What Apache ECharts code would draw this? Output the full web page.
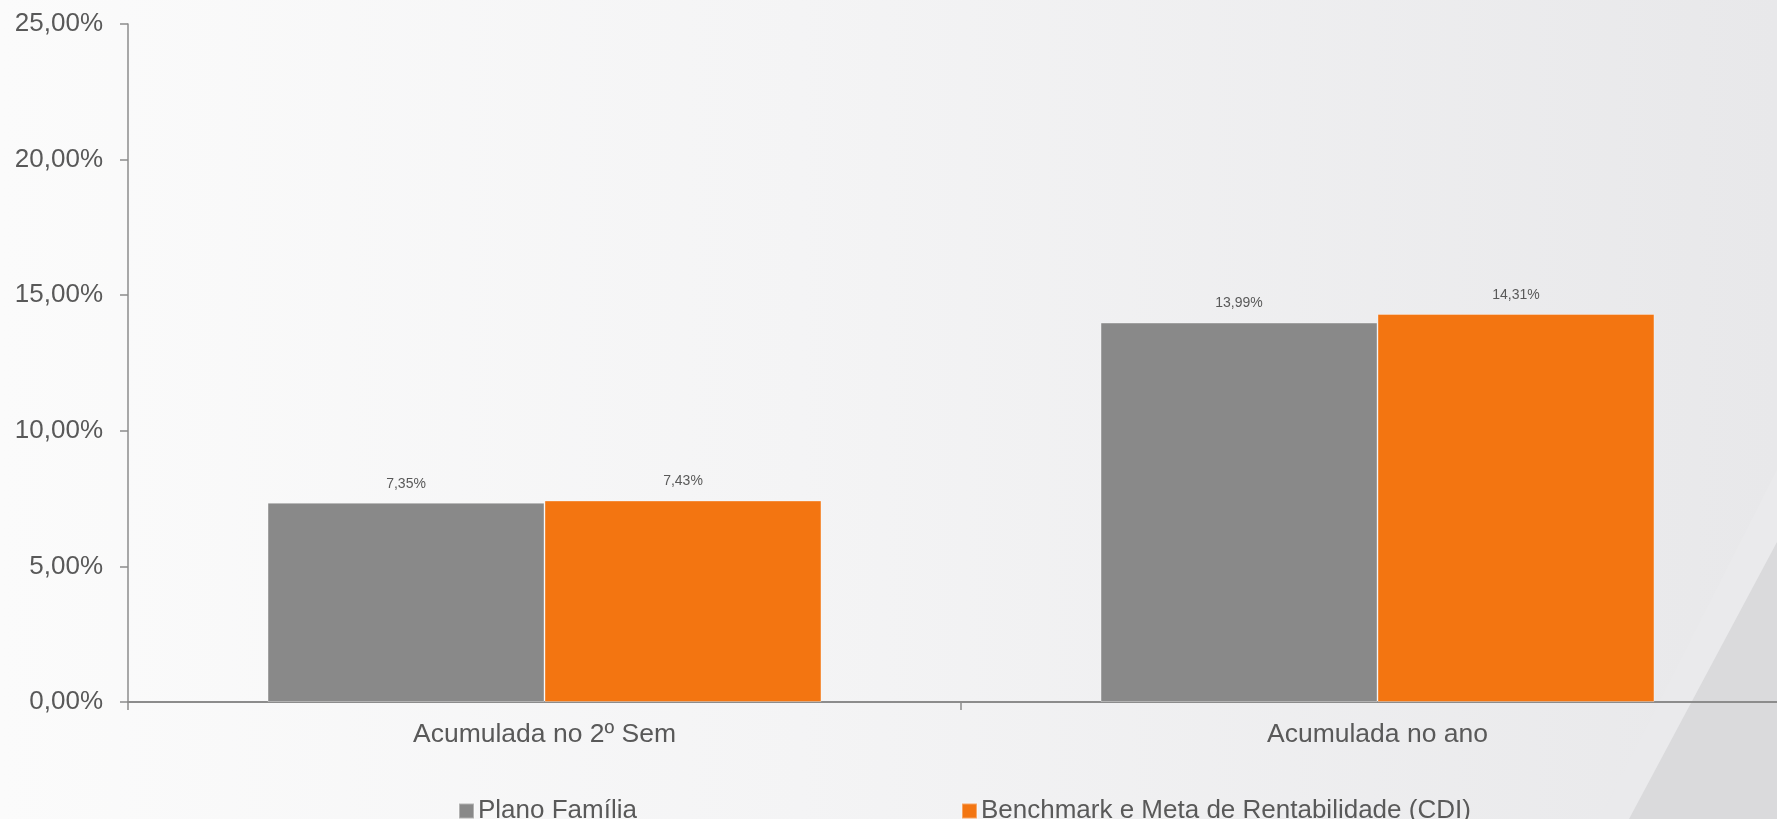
<!DOCTYPE html>
<html>
<head>
<meta charset="utf-8">
<script src="https://cdn.jsdelivr.net/npm/echarts@6/dist/echarts.min.js"></script>
<style>
html,body{margin:0;padding:0;}
body{width:1777px;height:819px;overflow:hidden;background:linear-gradient(90deg,#fbfbfb 0%,#f4f4f5 45%,#e8e8ea 100%);}
#c{width:1800px;height:819px;}
</style>
</head>
<body>
<div id="c"></div>
<script>
const categories = ['Acumulada no 2º Sem', 'Acumulada no ano'];
const seriesNames = ['Plano Família', 'Benchmark e Meta de Rentabilidade (CDI)'];
const planoFamilia = [7.35, 13.99];
const benchmarkCDI = [7.43, 14.31];
const yTicks = [0, 5, 10, 15, 20, 25];

const fmt = v => v.toFixed(2).replace('.', ',') + '%';
const FONT = '"Liberation Sans", Arial, sans-serif';
const TXT = '#595959';

const chart = echarts.init(document.getElementById('c'), null, {renderer: 'canvas'});
chart.setOption({
  backgroundColor: 'transparent',
  animation: false,
  textStyle: {fontFamily: FONT},
  graphic: [
    {
      type: 'polygon', z: -10, silent: true,
      shape: {points: [[1777, 470], [1777, 819], [1600, 819]]},
      style: {fill: '#eaeaec'}
    },
    {
      type: 'polygon', z: -9, silent: true,
      shape: {points: [[1777, 542], [1777, 819], [1629, 819]]},
      style: {fill: '#dadadc'}
    }
  ],
  grid: {left: 128, top: 24, right: 6, bottom: 117, containLabel: false},
  legend: {
    left: 453, top: 793,
    itemWidth: 15, itemHeight: 15, itemGap: 324,
    icon: 'rect',
    textStyle: {fontSize: 26, color: TXT, fontFamily: FONT, padding: [0, 0, 0, -1]},
    data: seriesNames
  },
  xAxis: {
    type: 'category',
    data: categories,
    boundaryGap: true,
    axisLine: {lineStyle: {color: '#8c8c8c', width: 2}},
    axisTick: {show: true, length: 8, lineStyle: {color: '#8c8c8c', width: 1.5}},
    axisLabel: {fontSize: 26.5, color: TXT, margin: 19, fontFamily: FONT}
  },
  yAxis: {
    type: 'value',
    min: yTicks[0], max: yTicks[yTicks.length - 1], interval: 5,
    splitLine: {show: false},
    axisLine: {show: true, lineStyle: {color: '#8c8c8c', width: 1.5}},
    axisTick: {show: true, length: 8, lineStyle: {color: '#8c8c8c', width: 1.5}},
    axisLabel: {fontSize: 26, color: TXT, margin: 25, fontFamily: FONT, formatter: fmt}
  },
  series: [
    {
      name: seriesNames[0], type: 'bar', data: planoFamilia,
      barGap: '0%', barCategoryGap: '33.5%',
      itemStyle: {color: '#898989', borderColor: 'rgba(255,255,255,0.35)', borderWidth: 1},
      label: {show: true, position: 'top', distance: 12, fontSize: 14, color: TXT, fontFamily: FONT, formatter: p => fmt(p.value)}
    },
    {
      name: seriesNames[1], type: 'bar', data: benchmarkCDI,
      barGap: '0%', barCategoryGap: '33.5%',
      itemStyle: {color: '#f37511', borderColor: 'rgba(255,255,255,0.35)', borderWidth: 1},
      label: {show: true, position: 'top', distance: 12, fontSize: 14, color: TXT, fontFamily: FONT, formatter: p => fmt(p.value)}
    }
  ]
});
</script>
</body>
</html>
